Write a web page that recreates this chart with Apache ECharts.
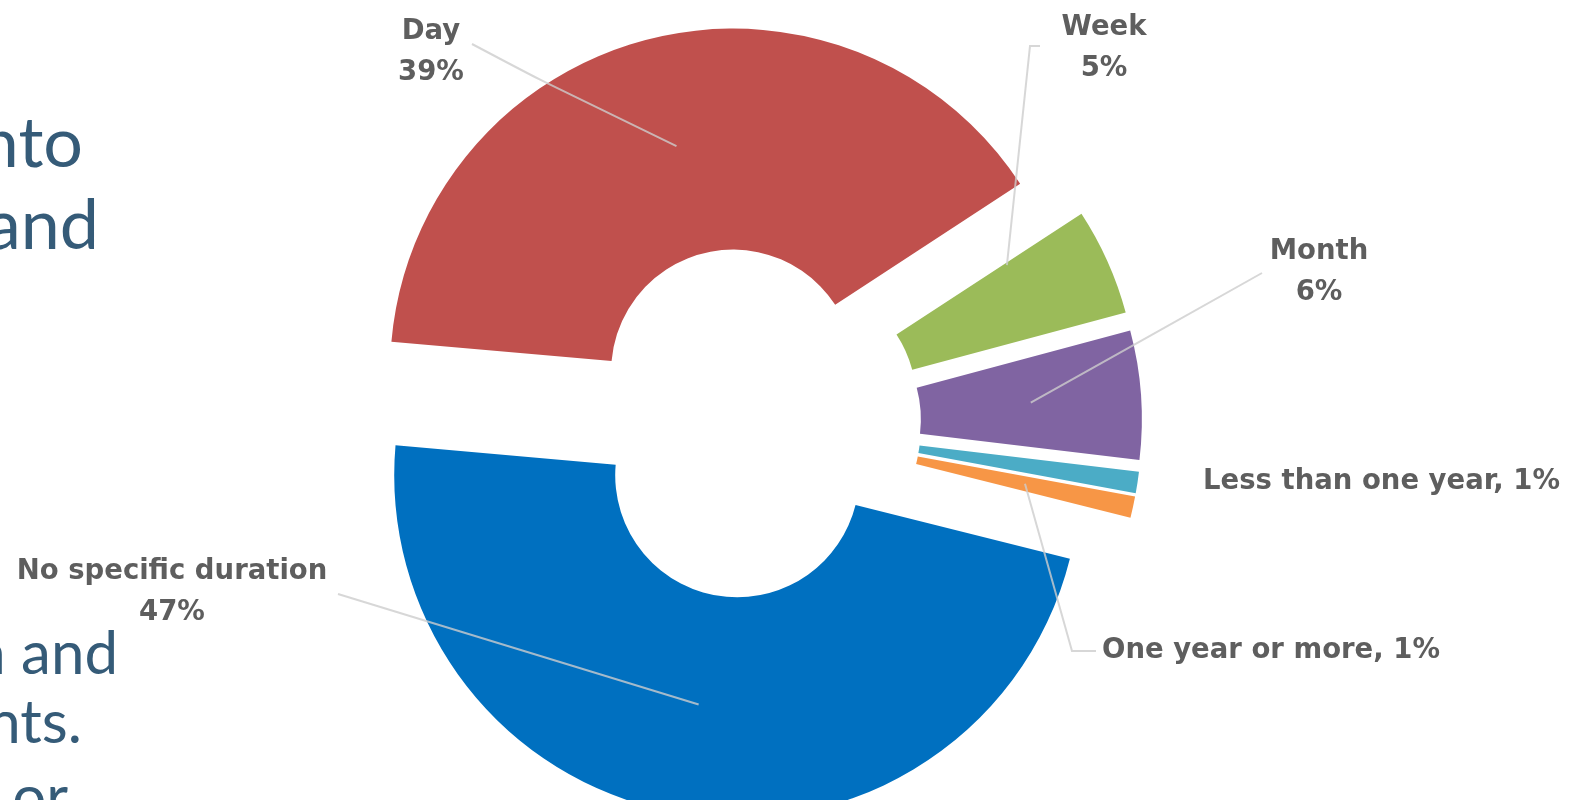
<!DOCTYPE html>
<html>
<head>
<meta charset="utf-8">
<title>Duration</title>
<script src="https://cdn.jsdelivr.net/npm/echarts@6/dist/echarts.min.js"></script>
<style>
  html, body { margin: 0; padding: 0; background: #ffffff; }
  #chart { width: 1585px; height: 800px; }
</style>
</head>
<body>
<div id="chart"></div>
<script>
// data
const categories = ["Day", "Week", "Month", "Less than one year", "One year or more", "No specific duration"];
const shares = [39, 5, 6, 1, 1, 47];
// fragments of the slide text left of the chart (cut by the slide edge)
const slideHeading = ["nto", "and"];
const slideBody = ["n and", "nts.", "or"];

const sliceColors = ["#C0504D", "#9BBB59", "#8064A2", "#4BACC6", "#F79646", "#0070C0"];

// label placement, the way the picture has it
// tip: where the leader line meets its slice ("mid" = middle of the ring, "start" = on the slice's first edge)
const labelCfg = [
  { x: 431, y: 52, align: "center", sep: "\n", line: true, tip: "mid", anchor: [472, 44], bend: [540, 80] },
  { x: 1104, y: 48, align: "center", sep: "\n", line: true, tip: "start", anchor: [1040, 46], bend: [1030, 46] },
  { x: 1319, y: 272, align: "center", sep: "\n", line: true, tip: "mid", anchor: [1262, 273], bend: null },
  { x: 1203, y: 482, align: "left", sep: ", ", line: false },
  { x: 1102, y: 651, align: "left", sep: ", ", line: true, tip: "mid", anchor: [1096, 651], bend: [1072, 651] },
  { x: 172, y: 592, align: "center", sep: "\n", line: true, tip: "mid", anchor: [338, 594], bend: null }
];

const cx = 746, cy = 423;
const rIn = 122, rOut = 343;
const explode = 53;
const startAngle = 175;
const ringMid = (rIn + rOut) / 2;

const total = shares.reduce((a, b) => a + b, 0);
let acc = 0;
const slices = shares.map((v) => {
  const a0 = startAngle - (acc / total) * 360;
  acc += v;
  const a1 = startAngle - (acc / total) * 360;
  const mid = ((a0 + a1) / 2) * Math.PI / 180;
  const st = (a0 - 0.5) * Math.PI / 180;
  const ox = cx + explode * Math.cos(mid);
  const oy = cy - explode * Math.sin(mid);
  return {
    ox: ox,
    oy: oy,
    mid: [ox + ringMid * Math.cos(mid), oy - ringMid * Math.sin(mid)],
    start: [ox + (ringMid + 20) * Math.cos(st), oy - (ringMid + 20) * Math.sin(st)]
  };
});

// one pie per slice, so every slice gets its own explode offset
const series = categories.map((cat, i) => ({
  type: "pie",
  z: 2,
  center: [slices[i].ox, slices[i].oy],
  radius: [rIn, rOut],
  startAngle: startAngle,
  clockwise: true,
  silent: true,
  label: { show: false },
  labelLine: { show: false },
  data: categories.map((name, j) => ({
    name: name,
    value: shares[j],
    itemStyle: { color: j === i ? sliceColors[j] : "rgba(0,0,0,0)" }
  }))
}));

// see-through pie on top that only carries the labels and their leader lines
series.push({
  type: "pie",
  z: 3,
  center: [cx, cy],
  radius: [rIn, rOut],
  startAngle: startAngle,
  clockwise: true,
  silent: true,
  avoidLabelOverlap: false,
  itemStyle: { color: "rgba(0,0,0,0)" },
  label: {
    position: "outside",
    fontFamily: "DejaVu Sans",
    fontWeight: "bold",
    fontSize: 27.5,
    lineHeight: 41,
    color: "#5e5e5e",
    formatter: (p) => p.name + labelCfg[p.dataIndex].sep + p.value + "%"
  },
  labelLine: {
    lineStyle: { color: "rgba(205,205,205,0.8)", width: 2 }
  },
  labelLayout: function (p) {
    const i = p.dataIndex;
    const c = labelCfg[i];
    const out = { x: c.x, y: c.y, align: c.align, verticalAlign: "middle" };
    if (c.line) {
      const end = slices[i][c.tip];
      const bend = c.bend || [(end[0] + c.anchor[0]) / 2, (end[1] + c.anchor[1]) / 2];
      out.labelLinePoints = [end, bend, c.anchor];
    }
    return out;
  },
  data: categories.map((name, j) => ({
    name: name,
    value: shares[j],
    labelLine: { show: labelCfg[j].line, smooth: j === 0 ? 0.25 : false }
  }))
});

const slideFont = "Lato, 'Open Sans', sans-serif";
const graphics = [];
slideHeading.forEach((t, k) => {
  graphics.push({
    type: "text",
    x: [83, 99][k],
    y: [144, 226][k],
    style: { text: t, font: "70px " + slideFont, fill: "#355B78", align: "right", verticalAlign: "middle" }
  });
});
slideBody.forEach((t, k) => {
  graphics.push({
    type: "text",
    x: [118, 82, 68][k],
    y: [655, 724, 799][k],
    style: { text: t, font: "60px " + slideFont, fill: "#355B78", align: "right", verticalAlign: "middle" }
  });
});

const chart = echarts.init(document.getElementById("chart"));
chart.setOption({
  animation: false,
  backgroundColor: "#ffffff",
  graphic: { elements: graphics },
  series: series
});
</script>
</body>
</html>
